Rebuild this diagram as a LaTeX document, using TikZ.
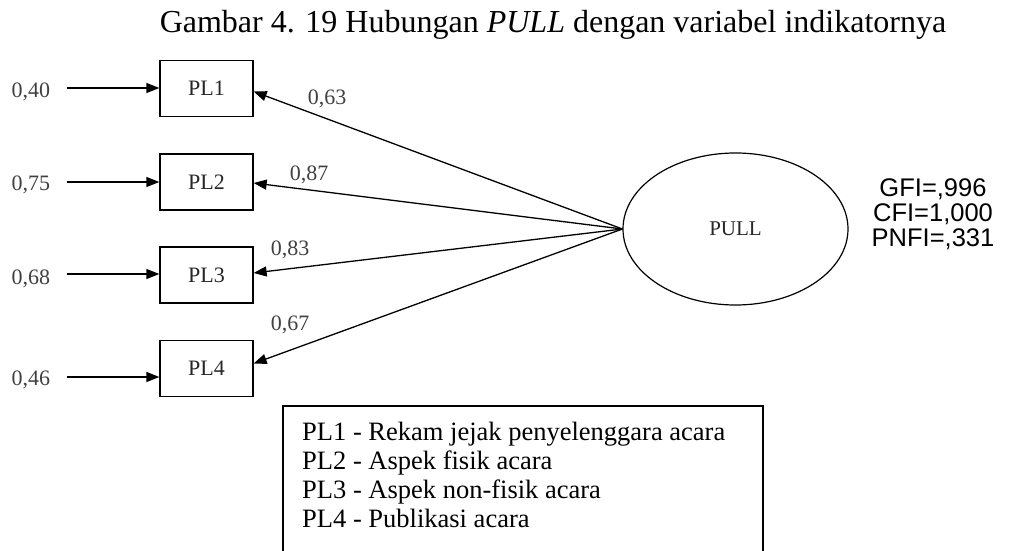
\documentclass[tikz,border=0pt]{standalone}
\usepackage{fontspec}
\setmainfont{Liberation Serif}
\newfontfamily\arialfont{Liberation Sans}
\usetikzlibrary{arrows.meta,shapes.geometric}
\begin{document}
\begin{tikzpicture}[x=1pt,y=-1pt,
  obs/.style={draw, line width=1.3pt, minimum width=93pt, minimum height=56pt,
    inner sep=0pt, font=\fontsize{22}{24}\selectfont, text=black!85},
  lbl/.style={font=\fontsize{22}{24}\selectfont, text=black!75, inner sep=0pt},
  legtxt/.style={font=\fontsize{26.5}{28}\selectfont, anchor=base west, inner sep=0pt},
  conn/.style={-{Triangle[length=13pt,width=10pt]}, line width=1.3pt},
]
\useasboundingbox (0,0) rectangle (1010,551);

% title
\node[font=\fontsize{32}{36}\selectfont, anchor=base, inner sep=0pt] (title) at (553,33)
  {Gambar 4. 19 Hubungan \textit{PULL} dengan variabel indikatornya};

% observed indicators
\node[obs] (pl1) at (206.5,88.5) {PL1};
\node[obs] (pl2) at (206.5,182) {PL2};
\node[obs] (pl3) at (206.5,275) {PL3};
\node[obs] (pl4) at (206.5,368.5) {PL4};

% error terms
\node[lbl] (e1) at (31,92) {0,40};
\node[lbl] (e2) at (31,185) {0,75};
\node[lbl] (e3) at (31,279) {0,68};
\node[lbl] (e4) at (31,380) {0,46};
\coordinate (s1) at (67,88);
\coordinate (s2) at (67,182);
\coordinate (s3) at (67,274);
\coordinate (s4) at (67,377);
\draw[conn] (s1) -- (s1 -| pl1.west);
\draw[conn] (s2) -- (s2 -| pl2.west);
\draw[conn] (s3) -- (s3 -| pl3.west);
\draw[conn] (s4) -- (s4 -| pl4.west);

% latent variable
\node[ellipse, draw, line width=1.2pt, minimum width=225pt, minimum height=152pt,
  inner sep=0pt, font=\fontsize{21}{24}\selectfont, text=black!85] (pull) at (735.5,229) {PULL};

% loadings
\draw[conn] (pull.west) -- ([yshift=-3pt]pl1.east);
\draw[conn] (pull.west) -- ([yshift=-1pt]pl2.east);
\draw[conn] (pull.west) -- ([yshift=2pt]pl3.east);
\draw[conn] (pull.west) -- ([yshift=5pt]pl4.east);
\node[lbl] (l1) at (327,99) {0,63};
\node[lbl] (l2) at (309,175) {0,87};
\node[lbl] (l3) at (290,250) {0,83};
\node[lbl] (l4) at (290,325) {0,67};

% fit indices
\node[font=\arialfont\fontsize{25.5}{25}\selectfont, align=center, inner sep=0pt] (fit) at (933,214)
  {GFI=,996\\CFI=1,000\\PNFI=,331};

% legend
\draw[line width=1.3pt] (283,560) |- (763,406) -- (763,560);
\node[legtxt] (d1) at (302,440) {PL1 - Rekam jejak penyelenggara acara};
\node[legtxt] (d2) at (302,469) {PL2 - Aspek fisik acara};
\node[legtxt] (d3) at (302,498) {PL3 - Aspek non-fisik acara};
\node[legtxt] (d4) at (302,527) {PL4 - Publikasi acara};
\end{tikzpicture}
\end{document}
